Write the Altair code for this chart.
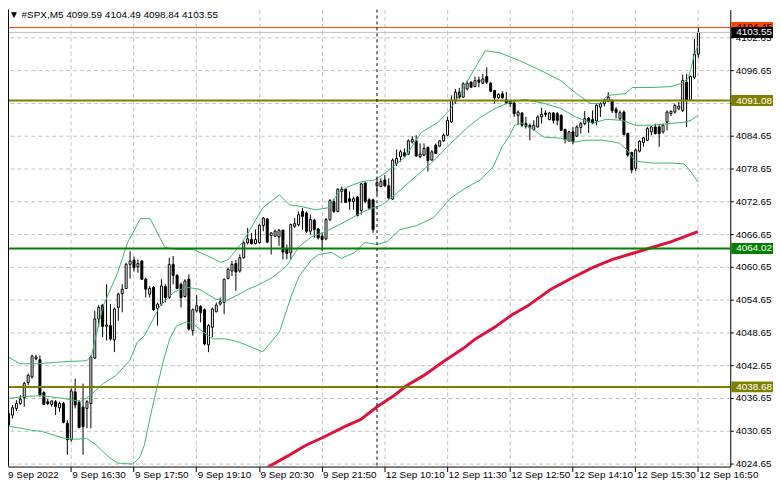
import altair as alt
import pandas as pd

# ---------------- data ----------------
opens = [4031.71, 4033.53, 4034.74, 4035.65, 4036.68, 4039.47, 4040.50, 4043.83, 4043.65, 4037.65,
         4035.95, 4035.47, 4035.95, 4034.86, 4035.65, 4032.02, 4028.99, 4037.77, 4035.83, 4034.99,
         4034.74, 4035.65, 4043.95, 4051.11, 4053.65, 4049.77, 4049.89, 4047.29, 4053.23, 4055.77,
         4056.68, 4061.10, 4061.89, 4060.68, 4061.71, 4058.38, 4055.65, 4056.86, 4053.04, 4053.83,
         4057.04, 4055.04, 4061.10, 4059.10, 4057.47, 4055.22, 4058.38, 4048.98, 4052.62, 4053.41,
         4052.80, 4046.38, 4049.59, 4052.44, 4053.83, 4054.13, 4058.50, 4059.89, 4061.29, 4059.89,
         4062.32, 4065.04, 4065.65, 4064.92, 4065.05, 4068.20, 4069.41, 4066.38, 4066.26, 4066.14,
         4067.35, 4063.95, 4063.23, 4068.08, 4068.38, 4070.80, 4070.50, 4067.17, 4069.17, 4067.59,
         4066.26, 4065.77, 4069.29, 4072.62, 4070.80, 4074.44, 4074.86, 4073.11, 4072.62, 4073.41,
         4070.99, 4075.95, 4072.92, 4072.92, 4075.47, 4075.35, 4076.56, 4075.47, 4073.05, 4079.59,
         4080.80, 4081.53, 4081.29, 4083.53, 4083.71, 4080.80, 4081.11, 4082.50, 4080.20, 4082.93,
         4082.74, 4083.71, 4084.74, 4087.17, 4090.99, 4092.62, 4091.71, 4093.23, 4094.44, 4093.65,
         4094.86, 4094.26, 4095.47, 4094.26, 4092.93, 4091.59, 4092.32, 4091.23, 4090.98, 4090.62,
         4088.38, 4088.80, 4086.86, 4086.56, 4085.77, 4086.26, 4088.08, 4088.80, 4087.59, 4088.80,
         4088.68, 4088.38, 4085.77, 4083.71, 4085.35, 4084.56, 4086.14, 4086.86, 4087.89, 4087.59,
         4087.35, 4089.89, 4090.50, 4090.98, 4091.00, 4089.50, 4087.77, 4088.98, 4085.04, 4081.59,
         4078.68, 4081.83, 4083.41, 4083.83, 4085.35, 4086.26, 4086.26, 4085.35, 4087.17, 4088.68,
         4088.98, 4089.59, 4089.29, 4094.44, 4091.11, 4095.35, 4099.59]
highs = [4034.14, 4035.35, 4036.26, 4037.17, 4039.59, 4041.11, 4044.56, 4044.56, 4044.44, 4037.89,
         4036.44, 4036.26, 4036.26, 4035.95, 4035.95, 4032.62, 4038.38, 4040.20, 4036.26, 4039.29,
         4036.26, 4044.44, 4052.62, 4053.65, 4053.83, 4057.47, 4053.83, 4053.23, 4055.95, 4057.47,
         4061.41, 4063.50, 4062.50, 4062.01, 4061.89, 4058.68, 4057.16, 4057.16, 4054.13, 4058.38,
         4057.47, 4062.32, 4062.62, 4059.29, 4057.77, 4058.38, 4059.29, 4053.04, 4055.47, 4053.65,
         4053.04, 4050.19, 4053.22, 4054.13, 4055.04, 4058.50, 4060.50, 4061.71, 4061.89, 4062.92,
         4065.35, 4067.77, 4066.86, 4067.50, 4068.56, 4069.77, 4069.53, 4066.99, 4067.47, 4067.59,
         4067.47, 4064.74, 4068.56, 4069.59, 4070.80, 4071.41, 4070.80, 4070.20, 4069.41, 4067.77,
         4066.86, 4069.59, 4073.05, 4073.05, 4075.05, 4075.35, 4075.05, 4074.44, 4073.53, 4073.65,
         4076.08, 4076.26, 4073.23, 4073.11, 4076.86, 4076.86, 4077.47, 4076.86, 4080.50, 4082.14,
         4082.02, 4082.32, 4083.96, 4084.56, 4084.74, 4083.23, 4083.23, 4082.74, 4082.02, 4083.23,
         4083.83, 4085.05, 4088.08, 4092.02, 4093.23, 4093.41, 4094.44, 4094.74, 4094.62, 4095.47,
         4095.47, 4095.96, 4097.17, 4094.44, 4093.05, 4092.44, 4092.80, 4092.62, 4091.23, 4090.80,
         4089.29, 4088.98, 4088.08, 4086.86, 4087.47, 4088.38, 4089.77, 4089.29, 4088.98, 4088.98,
         4088.98, 4088.56, 4085.95, 4085.53, 4086.26, 4086.56, 4087.17, 4089.17, 4088.08, 4089.29,
         4090.50, 4090.80, 4091.41, 4092.62, 4091.30, 4089.90, 4089.29, 4089.29, 4085.23, 4081.71,
         4082.32, 4083.83, 4084.44, 4086.26, 4086.44, 4086.86, 4086.56, 4086.86, 4089.29, 4089.29,
         4090.50, 4090.80, 4095.84, 4095.96, 4095.65, 4102.32, 4104.49]
lows = [4031.11, 4032.92, 4034.26, 4035.35, 4035.05, 4038.99, 4040.20, 4043.53, 4036.86, 4035.35,
        4035.35, 4035.05, 4033.53, 4034.14, 4032.02, 4026.26, 4028.68, 4034.74, 4031.11, 4026.26,
        4031.11, 4031.11, 4043.83, 4049.59, 4047.77, 4047.17, 4047.17, 4045.05, 4050.80, 4052.32,
        4056.56, 4058.50, 4059.80, 4059.59, 4058.26, 4055.04, 4055.04, 4052.62, 4049.89, 4053.53,
        4054.13, 4054.74, 4057.47, 4056.56, 4053.22, 4055.04, 4048.98, 4048.07, 4052.32, 4050.50,
        4046.26, 4045.04, 4047.77, 4052.32, 4053.60, 4052.01, 4058.38, 4058.98, 4056.26, 4059.59,
        4062.13, 4064.74, 4064.74, 4064.74, 4064.92, 4067.17, 4065.05, 4062.92, 4066.14, 4064.44,
        4062.02, 4062.02, 4062.02, 4067.77, 4068.08, 4067.47, 4066.86, 4066.56, 4065.95, 4065.65,
        4063.53, 4065.53, 4068.99, 4070.50, 4070.62, 4072.32, 4072.32, 4071.11, 4071.11, 4069.89,
        4070.20, 4072.32, 4071.11, 4066.86, 4073.83, 4075.23, 4075.35, 4073.05, 4072.93, 4079.11,
        4079.90, 4080.80, 4081.11, 4083.23, 4080.80, 4080.50, 4080.93, 4078.08, 4080.08, 4081.29,
        4082.62, 4083.53, 4084.56, 4086.99, 4090.50, 4091.41, 4091.59, 4092.93, 4093.41, 4093.53,
        4093.53, 4094.14, 4094.14, 4092.62, 4090.50, 4091.41, 4091.41, 4090.50, 4089.89, 4088.08,
        4086.56, 4086.26, 4085.95, 4083.83, 4085.65, 4086.14, 4086.86, 4088.08, 4087.47, 4086.86,
        4086.56, 4085.53, 4083.23, 4083.53, 4083.11, 4084.44, 4085.04, 4086.56, 4085.17, 4086.74,
        4086.56, 4088.08, 4090.02, 4090.80, 4088.80, 4087.80, 4087.47, 4084.74, 4080.80, 4077.77,
        4078.20, 4081.59, 4082.62, 4083.65, 4084.74, 4084.86, 4082.62, 4085.04, 4085.65, 4088.26,
        4088.68, 4089.29, 4088.99, 4086.26, 4091.00, 4095.05, 4098.84]
closes = [4033.83, 4034.86, 4035.65, 4036.44, 4039.29, 4040.80, 4044.32, 4044.14, 4037.17, 4035.47,
          4035.65, 4036.08, 4035.05, 4035.65, 4032.20, 4028.99, 4037.95, 4035.35, 4031.23, 4031.41,
          4035.95, 4044.14, 4051.11, 4053.23, 4049.77, 4050.02, 4047.47, 4052.92, 4055.65, 4056.56,
          4061.11, 4061.71, 4060.50, 4061.29, 4058.38, 4056.56, 4056.68, 4052.80, 4053.83, 4057.16,
          4055.04, 4061.10, 4059.10, 4056.68, 4055.04, 4058.07, 4049.29, 4052.80, 4053.53, 4052.32,
          4046.56, 4049.89, 4052.92, 4053.65, 4054.26, 4058.38, 4060.19, 4061.10, 4059.71, 4062.32,
          4065.04, 4065.77, 4064.92, 4065.65, 4068.20, 4069.59, 4065.17, 4066.86, 4067.17, 4067.35,
          4063.35, 4063.11, 4068.38, 4068.56, 4070.20, 4069.89, 4067.17, 4069.29, 4067.47, 4065.95,
          4065.65, 4069.29, 4072.80, 4070.80, 4074.86, 4074.86, 4072.44, 4072.62, 4073.11, 4070.02,
          4075.83, 4072.62, 4071.41, 4067.47, 4076.08, 4076.26, 4075.47, 4073.23, 4080.20, 4080.50,
          4081.71, 4080.93, 4083.71, 4083.96, 4080.93, 4081.29, 4082.32, 4080.08, 4081.71, 4081.41,
          4083.71, 4084.74, 4087.47, 4091.11, 4092.62, 4091.71, 4094.14, 4094.26, 4093.53, 4094.74,
          4094.44, 4095.05, 4094.44, 4092.80, 4091.59, 4092.20, 4091.59, 4090.62, 4090.50, 4088.68,
          4088.98, 4086.56, 4086.38, 4086.14, 4086.56, 4088.08, 4088.56, 4088.56, 4088.80, 4087.47,
          4087.47, 4085.65, 4083.95, 4085.35, 4083.53, 4086.26, 4086.86, 4087.77, 4087.17, 4086.98,
          4090.20, 4090.50, 4091.23, 4091.71, 4089.20, 4088.90, 4088.86, 4084.86, 4081.11, 4078.38,
          4082.01, 4083.65, 4084.26, 4085.95, 4086.26, 4085.04, 4085.04, 4086.56, 4088.98, 4089.11,
          4090.20, 4090.08, 4094.74, 4091.11, 4095.47, 4099.59, 4103.55]

bars_first_day = 94          # 9 Sep 15:10 .. 22:55, 12 Sep starts with bar 94
time_labels = ["9 Sep 2022", "9 Sep 16:30", "9 Sep 17:50", "9 Sep 19:10", "9 Sep 20:30",
               "9 Sep 21:50", "12 Sep 10:10", "12 Sep 11:30", "12 Sep 12:50", "12 Sep 14:10",
               "12 Sep 15:30", "12 Sep 16:50"]
label_bars = [0, 16, 32, 48, 64, 80, 96, 112, 128, 144, 160, 176]
price_ticks = [4024.65, 4030.65, 4036.65, 4042.65, 4048.65, 4054.65, 4060.65,
               4066.65, 4072.65, 4078.65, 4084.65, 4090.65, 4096.65, 4102.65]

# Bollinger bands (bar index, price)
bb_upper = [(0, 4044.20), (3, 4042.92), (7.5, 4042.92), (14.25, 4043.29), (20, 4043.47), (21.25, 4044.20),
            (22.25, 4047.47), (24.25, 4053.47), (28, 4059.65), (30.5, 4065.10), (33.75, 4069.47),
            (36.25, 4069.47), (40, 4064.20), (43, 4063.83), (47.25, 4063.83), (51.25, 4062.56),
            (54.25, 4061.47), (56.25, 4062.01), (59.75, 4065.10), (61.75, 4067.47), (65, 4071.47),
            (69.25, 4073.83), (71.75, 4072.01), (75, 4071.65), (78.5, 4071.10), (81.75, 4071.47),
            (84.25, 4074.20), (86.75, 4075.29), (90, 4076.20), (93.5, 4076.56), (96.25, 4077.83),
            (101.25, 4080.74), (105.5, 4085.29), (109.75, 4087.10), (113, 4089.65), (116.25, 4093.47),
            (118.75, 4096.56), (121.75, 4100.20), (125.5, 4099.83), (130.5, 4098.38), (136, 4096.56),
            (141, 4094.74), (145, 4092.38), (148.5, 4090.56), (151, 4090.56), (153, 4092.01),
            (157.5, 4092.38), (159.25, 4093.47), (164.25, 4093.47), (169.25, 4093.65), (171.75, 4094.20),
            (173.5, 4095.10), (174.25, 4096.92), (175, 4099.29), (176, 4101.10)]
bb_middle = [(0, 4036.56), (4.25, 4036.92), (8.5, 4037.10), (14.25, 4036.56), (18.5, 4036.01), (21, 4037.10),
             (24.25, 4039.29), (27.5, 4040.74), (31, 4043.47), (33, 4046.92), (34.75, 4048.01),
             (38.75, 4053.47), (42.25, 4056.01), (45.5, 4056.92), (48.75, 4056.56), (53, 4054.74),
             (55.5, 4054.38), (58, 4055.29), (61.25, 4056.56), (64.25, 4057.47), (67.5, 4058.74),
             (71, 4060.74), (74.25, 4064.38), (77.5, 4066.20), (81, 4067.10), (86, 4068.92),
             (89.25, 4070.20), (91.75, 4071.10), (95.5, 4072.01), (99.25, 4074.20), (103, 4076.56),
             (108, 4079.65), (113, 4083.29), (117.25, 4086.20), (120.5, 4088.01), (124.25, 4089.65),
             (128, 4090.74), (131.75, 4091.29), (136.75, 4090.56), (141, 4089.65), (145, 4088.01),
             (149.25, 4086.92), (152.5, 4087.65), (156.75, 4087.47), (160, 4086.56), (164.25, 4086.56),
             (169.25, 4086.92), (172.5, 4087.10), (174.25, 4087.47), (176, 4088.38)]
bb_lower = [(0, 4031.47), (3.5, 4031.10), (6, 4030.74), (8.5, 4030.56), (14.25, 4029.29), (17.5, 4029.10),
            (20, 4029.29), (22.5, 4028.01), (26, 4025.65), (28, 4024.74), (31.75, 4024.56),
            (33.5, 4025.65), (34.75, 4028.01), (36.75, 4034.74), (39.75, 4043.83), (41.25, 4047.47),
            (43, 4049.83), (45.5, 4050.56), (47.25, 4050.20), (49.75, 4048.74), (52.25, 4047.47),
            (55.5, 4047.47), (58.75, 4046.92), (61.25, 4046.20), (65, 4045.10), (69.25, 4048.74),
            (72.25, 4055.29), (74.25, 4058.92), (77.5, 4062.01), (79.25, 4062.92), (82.5, 4063.29),
            (85, 4062.20), (88.5, 4063.29), (91, 4065.10), (94.25, 4064.74), (96.75, 4065.29),
            (100, 4067.47), (104.25, 4068.20), (108.5, 4069.65), (113, 4073.29), (117.25, 4075.29),
            (120.5, 4076.56), (123.75, 4078.92), (126, 4082.56), (128, 4084.74), (129.25, 4086.56),
            (131, 4086.92), (133.5, 4086.01), (136.75, 4084.38), (141, 4084.20), (144.25, 4083.47),
            (147.5, 4083.83), (151.75, 4083.83), (156, 4083.29), (158, 4082.01), (160, 4080.01),
            (164.25, 4079.65), (169.25, 4079.65), (172.5, 4079.47), (174.25, 4078.01), (176, 4076.20)]

# red moving average (bar index, price)
ma_points = [(64.75, 4023.28), (66.75, 4024.20), (71.75, 4026.20), (76, 4028.01), (81, 4029.65),
             (86, 4031.47), (90, 4032.74), (94.25, 4035.10), (98.5, 4037.10), (101.75, 4038.92),
             (106, 4040.74), (111, 4043.29), (116, 4045.65), (119.25, 4047.47), (124.25, 4049.65),
             (128.5, 4051.83), (132.5, 4053.47), (138.5, 4056.56), (144.25, 4058.74), (149.25, 4060.56),
             (154.25, 4062.01), (159.25, 4063.10), (164.25, 4064.19), (169.25, 4065.28), (176, 4067.10)]

top_line = 4104.45
olive_levels = [4091.08, 4038.68]
green_level = 4064.02

# ---------------- frames ----------------
n = len(opens)
candles = pd.DataFrame({"bar": list(range(n)), "open": opens, "high": highs,
                        "low": lows, "close": closes})
bands = pd.DataFrame(
    [{"bar": b, "val": v, "band": "upper"} for b, v in bb_upper]
    + [{"bar": b, "val": v, "band": "middle"} for b, v in bb_middle]
    + [{"bar": b, "val": v, "band": "lower"} for b, v in bb_lower])
ma = pd.DataFrame([{"bar": b, "val": v} for b, v in ma_points])

bid = closes[-1]
thin_lines = pd.DataFrame({"price": [top_line, bid], "col": ["#FF4500", "#C0C0C0"]})
thick_lines = pd.DataFrame({"price": olive_levels + [green_level],
                            "col": ["#808000", "#808000", "#008000"]})
boxes = pd.DataFrame({
    "price": [top_line, bid, olive_levels[0], green_level, olive_levels[1]],
    "fill": ["#FF4500", "#000000", "#808000", "#008000", "#808000"],
    "tcol": ["#000000", "#FFFFFF", "#FFFFFF", "#FFFFFF", "#FFFFFF"],
})
boxes["top"] = boxes["price"] + 1.0
boxes["bot"] = boxes["price"] - 1.0
sep = pd.DataFrame({"bar": [bars_first_day]})
first_label = pd.DataFrame({"t": [time_labels[0]]})
header = pd.DataFrame({"t": ["\u25bc #SPX,M5  %.2f %.2f %.2f %.2f" % (opens[-1], highs[-1], lows[-1], closes[-1])]})

# ---------------- scales / axes ----------------
FONT = "Liberation Sans"
FS = 10
xs = alt.Scale(domain=[1.25, 183], nice=False, zero=False)
ys = alt.Scale(domain=[4024.1045, 4107.7409], nice=False, zero=False)

lab_arr = "[" + ",".join("'%s'" % t for t in time_labels[1:]) + "]"
xaxis = alt.Axis(values=label_bars[1:], labelExpr=lab_arr + "[round(datum.value/16)-1]",
                 grid=True, gridColor="#C0C0C0", gridDash=[4, 3], gridWidth=1,
                 domainColor="black", domainWidth=1, tickColor="black", tickSize=5,
                 labelAlign="left", labelOffset=1, labelBaseline="alphabetic", labelPadding=6,
                 labelFont=FONT, labelFontSize=FS, labelColor="black", title=None,
                 labelOverlap=False, labelFlush=False)
yaxis = alt.Axis(orient="right", values=price_ticks, format=".2f",
                 grid=True, gridColor="#C0C0C0", gridDash=[4, 3], gridWidth=1,
                 domainColor="black", domainWidth=1, tickColor="black", tickSize=3,
                 labelPadding=2, labelFont=FONT, labelFontSize=FS, labelColor="black",
                 labelBaseline="middle", title=None, labelOverlap=False, labelFlush=False)


def X(f):
    return alt.X(f, scale=xs, axis=xaxis, title=None)


def Y(f):
    return alt.Y(f, scale=ys, axis=yaxis, title=None)


wicks = alt.Chart(candles).mark_rule(color="black", strokeWidth=1, xOffset=0.5, clip=True).encode(
    x=X("bar:Q"), y=Y("low:Q"), y2="high:Q")
bodies = alt.Chart(candles).mark_bar(width=2, stroke="black", strokeWidth=1, xOffset=0.5,
                                     clip=True).encode(
    x=X("bar:Q"), y=Y("open:Q"), y2="close:Q",
    fill=alt.condition("datum.close >= datum.open", alt.value("white"), alt.value("black")))
band_lines = alt.Chart(bands).mark_line(color="#3CB371", strokeWidth=1, clip=True).encode(
    x=X("bar:Q"), y=Y("val:Q"), detail="band:N")
ma_line = alt.Chart(ma).mark_line(color="#DC143C", strokeWidth=3, clip=True).encode(
    x=X("bar:Q"), y=Y("val:Q"))
thin = alt.Chart(thin_lines).mark_rule(strokeWidth=1).encode(
    y=Y("price:Q"), color=alt.Color("col:N", scale=None))
thick = alt.Chart(thick_lines).mark_rule(strokeWidth=2).encode(
    y=Y("price:Q"), color=alt.Color("col:N", scale=None))
separator = alt.Chart(sep).mark_rule(color="black", strokeWidth=1, strokeDash=[3, 3],
                                     xOffset=0.5).encode(x=X("bar:Q"))
left_border = alt.Chart(sep).mark_rule(color="black", strokeWidth=1).encode(x=alt.value(0.5))
box_rects = alt.Chart(boxes).mark_rect().encode(
    x=alt.value(728), x2=alt.value(771), y=Y("top:Q"), y2="bot:Q",
    fill=alt.Color("fill:N", scale=None))
box_text = alt.Chart(boxes).mark_text(align="left", baseline="middle", font=FONT,
                                      fontSize=FS).encode(
    x=alt.value(733), y=Y("price:Q"), text=alt.Text("price:Q", format=".2f"),
    color=alt.Color("tcol:N", scale=None))
first_lab = alt.Chart(first_label).mark_text(align="left", baseline="alphabetic", font=FONT,
                                             fontSize=FS, color="black").encode(
    x=alt.value(0), y=alt.value(471.5), text="t:N")
head = alt.Chart(header).mark_text(align="left", baseline="top", font=FONT, fontSize=FS,
                                   color="black").encode(
    x=alt.value(1), y=alt.value(1), text="t:N")

chart = alt.layer(wicks, bodies, band_lines, ma_line, thin, thick, separator, left_border,
                  box_rects, box_text, first_lab, head).properties(
    width=727, height=460,
    padding={"left": 0, "top": 0, "right": 43, "bottom": 13},
    autosize=alt.AutoSizeParams(type="none"),
    background="white",
).configure_view(stroke=None)

chart.save("out.html", embed_options={"renderer": "svg", "actions": False})
